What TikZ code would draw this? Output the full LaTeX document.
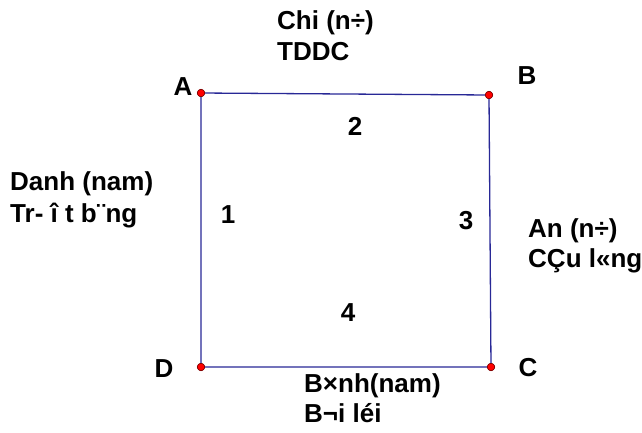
\documentclass[tikz,border=0pt]{standalone}
\usepackage{fontspec}
\setmainfont{Liberation Sans}
\begin{document}
\begin{tikzpicture}[x=1pt,y=-1pt,
  txt/.style={font=\fontsize{26}{30}\selectfont\bfseries, inner sep=0pt, anchor=base west},
  lbl/.style={font=\fontsize{26}{30}\selectfont\bfseries, inner sep=0pt},
  side/.style={draw={rgb,255:red,40;green,40;blue,150}, line width=1.3pt},
  pt/.style={circle, fill=red, draw={rgb,255:red,110;green,0;blue,0}, line width=0.5pt, inner sep=0pt, minimum size=7.5pt}]
\useasboundingbox (0,0) rectangle (642,432);
\node[pt] (A) at (201,93) {};
\node[pt] (B) at (489,95) {};
\node[pt] (C) at (491,367) {};
\node[pt] (D) at (201,367) {};
\draw[side] (A) -- (B) -- (C) -- (D) -- (A);
\foreach \p in {A,B,C,D} \node[pt] at (\p) {};
\node[lbl] (la) at (183,87) {A};
\node[lbl] (lb) at (527,76) {B};
\node[lbl] (lc) at (528,368) {C};
\node[lbl] (ld) at (164,369) {D};
\node[lbl] (n2) at (355,126) {2};
\node[lbl] (n1) at (228,215) {1};
\node[lbl] (n3) at (466,221) {3};
\node[lbl] (n4) at (348,313) {4};
\node[txt] (t1) at (277,29) {Chi (n÷)};
\node[txt] (t2) at (277,60) {TDDC};
\node[txt] (t3) at (10,190) {Danh (nam)};
\node[txt] (t4) at (10,222) {Tr- î t b¨ng};
\node[txt] (t5) at (528,237) {An (n÷)};
\node[txt] (t6) at (528,267) {CÇu l«ng};
\node[txt] (t7) at (304,392) {B×nh(nam)};
\node[txt] (t8) at (304,422) {B¬i léi};
\end{tikzpicture}
\end{document}
